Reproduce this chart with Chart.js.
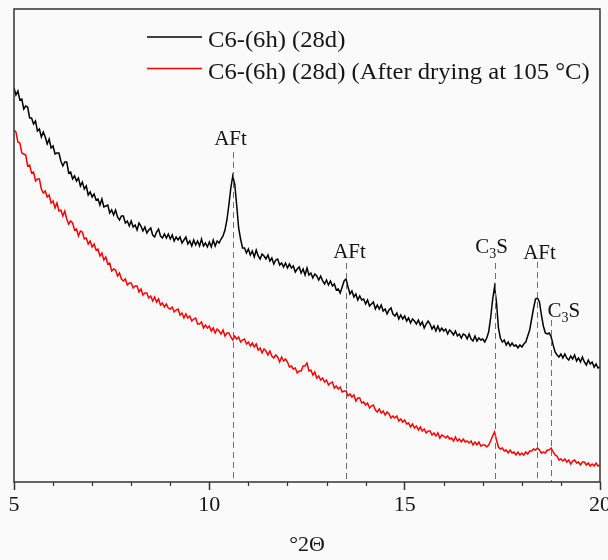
<!DOCTYPE html>
<html><head><meta charset="utf-8">
<script src="https://cdn.jsdelivr.net/npm/chart.js@4.4.1/dist/chart.umd.min.js"></script>
<style>html,body{margin:0;padding:0;background:#fafafa;}canvas{display:block;}</style>
</head><body>
<canvas id="c" width="608" height="560"></canvas>
<script>
// 2θ sampling grid (start / step of the scan)
const thetaStart = 5, thetaStep = 0.05;
// Intensity (a.u.) of C6-(6h) (28d)
const blackIntensity = [
394,387,391,382,383,373,376,375,364,364,358,361,351,353,345,350,345,338,343,334,
336,328,329,329,321,316,320,320,309,310,303,306,301,304,296,300,293,296,287,290,
285,288,282,283,277,283,275,276,277,269,272,267,272,265,262,266,266,259,261,256,
261,255,257,252,259,256,251,255,249,252,254,247,245,250,253,246,244,248,244,248,
243,247,241,245,242,245,239,242,245,238,241,236,242,237,241,236,243,236,239,235,
240,235,242,236,241,239,243,246,252,262,277,294,306,298,277,254,243,234,234,229,
233,227,231,225,232,226,223,228,226,223,227,221,224,218,222,223,217,219,215,219,
214,218,214,216,210,213,215,209,213,207,214,207,209,204,208,206,202,206,201,198,
202,197,201,196,198,192,193,189,195,201,203,195,188,191,185,188,182,186,182,183,
178,182,176,178,180,173,177,173,177,171,173,168,172,174,168,166,169,163,167,163,
166,161,164,159,163,161,158,162,157,160,154,158,161,158,153,156,151,156,151,154,
151,153,148,152,150,147,151,146,148,144,148,147,143,148,143,141,146,141,144,142,
143,140,144,150,164,182,195,180,154,144,140,142,137,140,136,139,136,137,134,137,
135,138,140,146,152,163,174,183,184,180,167,156,149,148,149,145,137,130,127,125,
128,124,128,124,122,126,123,127,121,124,120,125,120,117,122,118,120,115,118,114,
115];
// Intensity (a.u.) of C6-(6h) (28d) after drying at 105 °C
const redIntensity = [
352,350,340,339,329,328,327,316,317,309,310,301,303,303,293,289,291,285,287,279,
281,274,279,271,272,266,271,263,258,261,259,252,253,246,251,250,243,244,238,241,
235,238,232,233,226,229,222,225,218,219,211,213,212,206,209,203,201,203,197,199,
199,194,196,196,190,193,187,189,189,184,186,181,185,180,183,177,179,175,178,174,
173,175,170,172,173,167,169,164,168,164,166,161,163,164,158,158,160,154,157,154,
156,151,154,149,153,151,148,152,146,149,149,145,142,146,143,145,140,142,143,138,
140,136,139,135,138,132,134,129,133,131,127,131,126,124,127,125,120,125,121,123,
120,115,116,113,114,109,111,111,116,116,119,111,112,107,110,104,106,102,104,100,
102,97,99,100,94,96,93,95,90,91,91,86,88,85,87,81,84,84,79,80,
77,79,74,76,77,72,70,73,69,71,67,70,68,64,66,64,66,61,63,60,
62,58,59,55,58,54,56,52,55,51,53,49,51,51,47,49,46,49,44,47,
46,44,46,43,44,41,45,41,43,40,43,40,41,39,41,37,40,37,40,36,
37,37,35,37,41,46,50,42,35,33,34,31,32,29,32,29,30,27,30,27,
29,27,30,28,31,31,33,32,34,32,29,30,29,32,32,34,30,27,26,22,
23,21,23,20,22,18,21,22,19,20,17,20,20,17,19,16,18,16,19,16,
17];
const twoTheta = blackIntensity.map((_, i) => +(thetaStart + i * thetaStep).toFixed(2));
const xMajorTicks = [5, 10, 15, 20];
const seriesLabels = ['C6-(6h) (28d)', 'C6-(6h) (28d) (After drying at 105 °C)'];
const peakPositions = [10.6, 13.5, 17.3, 18.4, 18.75];
const peakNames = ['AFt', 'AFt', 'C3S', 'AFt', 'C3S'];

const SERIF = '"Liberation Serif", "Times New Roman", serif';
const TEXT = '#141414';

// layout of the peak annotations (label baseline / dashed line top in intensity units)
const peakLayout = [
  {base: 337, lineTop: 330, align: 'center', dx: -3},
  {base: 224, lineTop: 219, align: 'center', dx: 3},
  {base: 229, lineTop: 219, align: 'center', dx: -4},
  {base: 223, lineTop: 220, align: 'center', dx: 2},
  {base: 165, lineTop: 162, align: 'left', dx: -4}
];

function drawChem(ctx, name, x, y, align) {
  const big = '21px ' + SERIF, small = '14px ' + SERIF;
  const parts = [];
  for (const ch of name) parts.push({t: ch, sub: /[0-9]/.test(ch)});
  let w = 0;
  parts.forEach(p => { ctx.font = p.sub ? small : big; p.w = ctx.measureText(p.t).width; w += p.w; });
  let cx = align === 'center' ? x - w / 2 : x;
  ctx.textAlign = 'left';
  ctx.textBaseline = 'alphabetic';
  parts.forEach(p => {
    ctx.font = p.sub ? small : big;
    ctx.fillText(p.t, cx, p.sub ? y + 5 : y);
    cx += p.w;
  });
}

const decorPlugin = {
  id: 'decor',
  afterDatasetsDraw(chart) {
    const {ctx, chartArea: a, scales: {x, y}} = chart;
    ctx.save();
    peakPositions.forEach((p, i) => {
      const L = peakLayout[i];
      const px = Math.round(x.getPixelForValue(p)) + 0.5;
      ctx.strokeStyle = '#6e6e6e';
      ctx.lineWidth = 1;
      ctx.setLineDash([6, 4]);
      ctx.beginPath();
      ctx.moveTo(px, y.getPixelForValue(L.lineTop));
      ctx.lineTo(px, a.bottom);
      ctx.stroke();
      ctx.setLineDash([]);
      ctx.fillStyle = TEXT;
      drawChem(ctx, peakNames[i], px + L.dx, y.getPixelForValue(L.base), L.align);
    });
    ctx.restore();
  },
  afterDraw(chart) {
    const {ctx, chartArea: a, scales: {x}} = chart;
    ctx.save();
    ctx.strokeStyle = '#333';
    ctx.lineWidth = 1.5;
    ctx.strokeRect(a.left, a.top, a.right - a.left, a.bottom - a.top);
    ctx.lineWidth = 1.2;
    for (let v = 5; v <= 20; v++) {
      if (xMajorTicks.includes(v)) continue;
      const px = Math.round(x.getPixelForValue(v)) + 0.5;
      ctx.beginPath();
      ctx.moveTo(px, a.bottom);
      ctx.lineTo(px, a.bottom + 4);
      ctx.stroke();
    }
    // legend
    const rows = [{ly: 37, ty: 47}, {ly: 68.5, ty: 79}];
    chart.data.datasets.forEach((ds, i) => {
      ctx.strokeStyle = ds.borderColor;
      ctx.lineWidth = 1.5;
      ctx.beginPath();
      ctx.moveTo(147, rows[i].ly);
      ctx.lineTo(202, rows[i].ly);
      ctx.stroke();
      ctx.save();
      ctx.translate(208, rows[i].ty);
      ctx.scale(1.07, 1);
      ctx.fillStyle = TEXT;
      ctx.font = '23px ' + SERIF;
      ctx.textAlign = 'left';
      ctx.textBaseline = 'alphabetic';
      ctx.fillText(ds.label, 0, 0);
      ctx.restore();
    });
    ctx.restore();
  }
};

new Chart(document.getElementById('c'), {
  type: 'line',
  data: {
    datasets: [
      {label: seriesLabels[0], data: twoTheta.map((t, i) => ({x: t, y: blackIntensity[i]})),
       borderColor: '#000000', borderWidth: 1.5, pointRadius: 0, tension: 0, fill: false},
      {label: seriesLabels[1], data: twoTheta.map((t, i) => ({x: t, y: redIntensity[i]})),
       borderColor: '#ff0000', borderWidth: 1.5, pointRadius: 0, tension: 0, fill: false}
    ]
  },
  options: {
    responsive: false,
    animation: false,
    events: [],
    layout: {padding: {top: 9, left: 14, right: 8, bottom: 0}},
    plugins: {legend: {display: false}, tooltip: {enabled: false}},
    scales: {
      x: {
        type: 'linear', min: 5, max: 20,
        ticks: {stepSize: 1, autoSkip: false, maxRotation: 0, padding: 2, color: TEXT,
          font: {family: SERIF, size: 22},
          callback: v => xMajorTicks.includes(v) ? String(v) : ''},
        grid: {drawOnChartArea: false, drawTicks: true, tickLength: 8, tickWidth: 1.5,
          tickColor: c => (c.tick && xMajorTicks.includes(c.tick.value)) ? '#333' : 'rgba(0,0,0,0)'},
        border: {display: false},
        title: {display: true, text: '°2Θ', color: TEXT, font: {family: SERIF, size: 22},
          padding: {top: 0, bottom: 2}},
        afterFit: s => { s.paddingLeft = 0; s.paddingRight = 0; s.height = 78; }
      },
      y: {type: 'linear', min: 0, max: 473, display: false}
    }
  },
  plugins: [decorPlugin]
});
</script>
</body></html>
